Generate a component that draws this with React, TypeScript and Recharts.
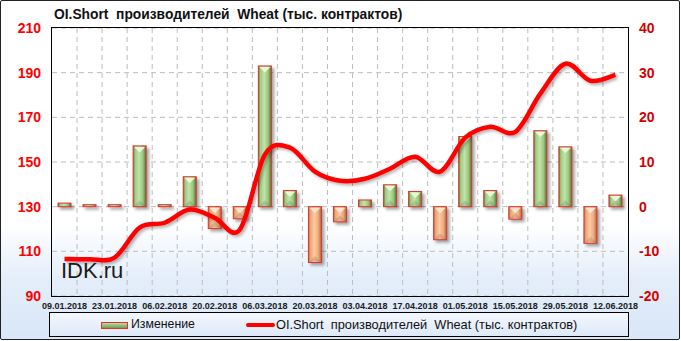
import React from 'react';
import { ComposedChart, Bar, Line, XAxis, YAxis, CartesianGrid } from 'recharts';

// weekly report dates
const dates = [
  '09.01.2018', '16.01.2018', '23.01.2018', '30.01.2018', '06.02.2018', '13.02.2018',
  '20.02.2018', '27.02.2018', '06.03.2018', '13.03.2018', '20.03.2018', '27.03.2018',
  '03.04.2018', '10.04.2018', '17.04.2018', '24.04.2018', '01.05.2018', '08.05.2018',
  '15.05.2018', '22.05.2018', '29.05.2018', '05.06.2018', '12.06.2018',
];
// weekly change (right axis)
const change = [0.8, 0.1, 0.3, 13.6, 0.4, 6.7, -4.9, -2.7, 31.5, 3.6, -12.5, -3.4, 1.5, 4.9, 3.4, -7.4, 15.7, 3.6, -2.8, 17, 13.4, -8.2, 2.6];
// OI short of producers (left axis)
const oiShort = [106.6, 106.5, 107.2, 120.6, 122.8, 128.7, 125, 119.7, 153.3, 156.4, 145.7, 141.6, 142.5, 147, 152.4, 145.7, 160.9, 165.8, 163.5, 180.6, 194, 186.4, 189];

const leftTicks = [90, 110, 130, 150, 170, 190, 210];
const rightTicks = [-20, -10, 0, 10, 20, 30, 40];

const TITLE = 'OI.Short  производителей  Wheat (тыс. контрактов)';

const data = dates.map((d, i) => ({ date: d, change: change[i], oi: oiShort[i] }));

// Excel-like smoothed line (Catmull-Rom through the points)
function smoothCurve(context: any) {
  let pts: number[][] = [];
  return {
    areaStart() {},
    areaEnd() {},
    lineStart() { pts = []; },
    point(x: number, y: number) { pts.push([+x, +y]); },
    lineEnd() {
      if (!pts.length) return;
      context.moveTo(pts[0][0], pts[0][1]);
      const t = 1 / 6;
      for (let i = 0; i < pts.length - 1; i++) {
        const p0 = pts[i - 1] || pts[i];
        const p1 = pts[i];
        const p2 = pts[i + 1];
        const p3 = pts[i + 2] || p2;
        context.bezierCurveTo(
          p1[0] + (p2[0] - p0[0]) * t, p1[1] + (p2[1] - p0[1]) * t,
          p2[0] - (p3[0] - p1[0]) * t, p2[1] - (p3[1] - p1[1]) * t,
          p2[0], p2[1]
        );
      }
    },
  };
}

function BevelBar(props: any) {
  const { x, y, width, height, payload } = props;
  if (x == null || y == null) return null;
  const pos = payload.change >= 0;
  let top = Math.min(y, y + height);
  let h = Math.abs(height);
  if (h < 2) { if (pos) top = top - (2 - h); h = 2; }
  const w = width;
  const bottom = top + h;
  const bevel = h > w / 2 + 3;
  return (
    <g>
      <rect x={x + 2} y={top + 2} width={w + 1} height={h + 1} fill="#000" opacity={0.35} filter="url(#barBlur)" />
      <rect x={x} y={top} width={w} height={h} fill={`url(#${pos ? 'gGreen' : 'gOrange'})`} stroke="#e5312b" strokeWidth={1} />
      {bevel && (
        <polygon
          points={`${x + 1},${top + 1} ${x + w - 1},${top + 1} ${x + w / 2},${top + w / 2}`}
          fill={pos ? '#e8f8d6' : '#fde4cc'}
        />
      )}
      {bevel && (
        <polygon
          points={`${x + 1},${bottom - 1} ${x + w - 1},${bottom - 1} ${x + w / 2},${bottom - w / 2}`}
          fill="#000"
          opacity={0.12}
        />
      )}
    </g>
  );
}

export default function App() {
  return (
    <div
      style={{
        position: 'absolute', left: 0, top: 0, width: 678, height: 338,
        border: '1px solid #222', borderRadius: 2,
        background: 'linear-gradient(180deg, #ffffff 0%, #ffffff 66%, #e4eefa 82%, #d9e7f8 100%)',
        fontFamily: '"Liberation Sans", Arial, sans-serif',
        overflow: 'hidden',
      }}
    >
      <style>{`.oi-line path { filter: url(#lineShadow); }`}</style>
      <div style={{ position: 'absolute', left: 0, top: 0 }}>
        <ComposedChart width={681} height={341} data={data} margin={{ top: 27, right: 0, left: 0, bottom: 30 }}>
          <defs>
            <linearGradient id="gGreen" x1="0" y1="0" x2="1" y2="0">
              <stop offset="0%" stopColor="#56803e" />
              <stop offset="15%" stopColor="#9ecb82" />
              <stop offset="45%" stopColor="#c1e4a9" />
              <stop offset="75%" stopColor="#9ac67d" />
              <stop offset="100%" stopColor="#4f7439" />
            </linearGradient>
            <linearGradient id="gOrange" x1="0" y1="0" x2="1" y2="0">
              <stop offset="0%" stopColor="#b07249" />
              <stop offset="15%" stopColor="#eba676" />
              <stop offset="45%" stopColor="#fccaa2" />
              <stop offset="75%" stopColor="#efac7c" />
              <stop offset="100%" stopColor="#a26a42" />
            </linearGradient>
            <filter id="barBlur" x="-50%" y="-50%" width="200%" height="200%">
              <feGaussianBlur stdDeviation="1.6" />
            </filter>
            <filter id="lineShadow" x="-10%" y="-10%" width="120%" height="120%">
              <feDropShadow dx="2" dy="2" stdDeviation="1.4" floodColor="#000" floodOpacity="0.3" />
            </filter>
          </defs>
          <CartesianGrid
            yAxisId="left"
            stroke="#bdbdbd"
            strokeDasharray="5 4"
            verticalCoordinatesGenerator={(p: any) => {
              const left = p?.offset?.left ?? 51;
              const width = p?.offset?.width ?? 576;
              return dates.slice(1).map((_, i) => left + ((i + 1) * width) / dates.length);
            }}
          />
          <XAxis
            dataKey="date"
            interval={1}
            axisLine={false}
            tickLine={false}
            height={16}
            tickMargin={1}
            tick={{ fontSize: 9, fontWeight: 700, fill: '#1a1a1a', fontFamily: '"Liberation Sans", Arial, sans-serif' }}
          />
          <YAxis
            yAxisId="left"
            orientation="left"
            width={51}
            domain={[90, 210]}
            ticks={leftTicks}
            axisLine={false}
            tickLine={false}
            tickMargin={5}
            tick={{ fontSize: 14, fontWeight: 700, fill: '#ff0000', fontFamily: '"Liberation Sans", Arial, sans-serif' }}
          />
          <YAxis
            yAxisId="right"
            orientation="right"
            width={54}
            domain={[-20, 40]}
            ticks={rightTicks}
            axisLine={false}
            tickLine={false}
            tickMargin={5}
            tick={{ fontSize: 14, fontWeight: 700, fill: '#d40000', fontFamily: '"Liberation Sans", Arial, sans-serif', textAnchor: 'start' }}
          />
          <Bar yAxisId="right" dataKey="change" barSize={13} shape={<BevelBar />} isAnimationActive={false} />
          <Line
            yAxisId="left"
            dataKey="oi"
            className="oi-line"
            type={smoothCurve as any}
            stroke="#ff0000"
            strokeWidth={4.5}
            dot={false}
            activeDot={false}
            isAnimationActive={false}
          />
        </ComposedChart>
      </div>

      {/* plot frame */}
      <div style={{ position: 'absolute', left: 50, top: 26, width: 576, height: 268, border: '1px solid #000', pointerEvents: 'none' }} />

      {/* title */}
      <div style={{ position: 'absolute', left: 53, top: 6, fontSize: 13.8, fontWeight: 700, color: '#111', whiteSpace: 'pre', lineHeight: '16px' }}>
        {TITLE}
      </div>

      {/* watermark */}
      <div style={{ position: 'absolute', left: 60, top: 257, fontSize: 22, color: '#1a1a1a', lineHeight: '26px' }}>IDK.ru</div>

      {/* legend */}
      <div
        style={{
          position: 'absolute', left: 48, top: 311, width: 578, height: 23,
          border: '1px solid #000',
          background: 'linear-gradient(180deg, #f3f7fd 0%, #dde9f8 100%)',
        }}
      >
        <div style={{ position: 'absolute', left: 51, top: 9, width: 25, height: 5, border: '1px solid #e5312b', background: 'linear-gradient(180deg, #b9df9f, #6f9c55)' }} />
        <div style={{ position: 'absolute', left: 81, top: 4, fontSize: 12.3, color: '#111', lineHeight: '15px' }}>Изменение</div>
        <div style={{ position: 'absolute', left: 196, top: 10, width: 29, height: 4, background: '#ff0000', borderRadius: 2 }} />
        <div style={{ position: 'absolute', left: 226, top: 4, fontSize: 12.8, color: '#111', lineHeight: '15px', whiteSpace: 'pre' }}>{TITLE}</div>
      </div>
    </div>
  );
}
